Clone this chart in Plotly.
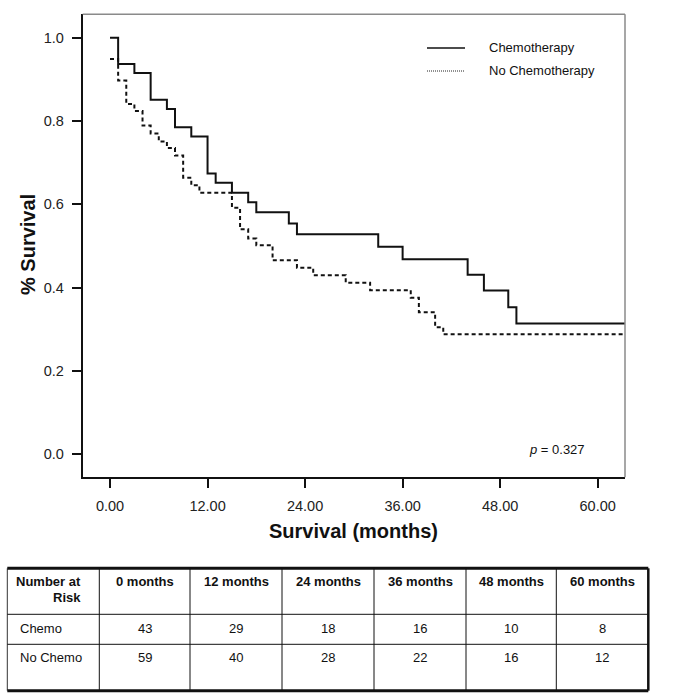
import plotly.graph_objects as go

W, H = 677, 697

# ---- data ----
chemo_months = [0, 1, 3, 5, 7, 8, 10, 12, 13, 15, 17, 18, 22, 23, 33, 36, 44, 46, 49, 50, 63.36]
chemo_surv = [1.0, 0.937, 0.915, 0.851, 0.829, 0.785, 0.763, 0.674, 0.652, 0.628, 0.605, 0.581,
              0.554, 0.528, 0.498, 0.468, 0.431, 0.393, 0.353, 0.314, 0.314]

nochemo_months = [0, 1, 2, 3, 4, 5, 6, 7, 8, 9, 10, 11, 15, 16, 17, 18, 20, 23, 25, 29, 32,
                  37, 38, 40, 41, 63.36]
nochemo_surv = [0.949, 0.897, 0.841, 0.824, 0.789, 0.770, 0.751, 0.735, 0.717, 0.664, 0.646,
                0.628, 0.592, 0.540, 0.518, 0.502, 0.466, 0.448, 0.430, 0.412, 0.394, 0.376,
                0.341, 0.305, 0.288, 0.288]

x_ticks = [0, 12, 24, 36, 48, 60]
x_tick_labels = ["0.00", "12.00", "24.00", "36.00", "48.00", "60.00"]
y_ticks = [0.0, 0.2, 0.4, 0.6, 0.8, 1.0]
y_tick_labels = ["0.0", "0.2", "0.4", "0.6", "0.8", "1.0"]

table_header = ["0 months", "12 months", "24 months", "36 months", "48 months", "60 months"]
table_rows = ["Chemo", "No Chemo"]
risk_chemo = [43, 29, 18, 16, 10, 8]
risk_nochemo = [59, 40, 28, 22, 16, 12]

series_names = ["Chemotherapy", "No Chemotherapy"]
p_text = "<i>p</i> = 0.327"


def px(x):
    return x / W


def py(y):
    return 1 - y / H


FONT = "Liberation Sans, Arial, sans-serif"
NARROW = "Liberation Sans Narrow, Liberation Sans, Arial, sans-serif"

fig = go.Figure()
fig.add_trace(go.Scatter(x=chemo_months, y=chemo_surv, mode="lines", line_shape="hv",
                         name=series_names[0], line=dict(color="#111", width=2)))
fig.add_trace(go.Scatter(x=nochemo_months, y=nochemo_surv, mode="lines", line_shape="hv",
                         name=series_names[1], line=dict(color="#111", width=2, dash="4px,3px")))

# plot area
L, R, T, B = 82.7, 625, 14.3, 477.3

shapes = []
# top and right grey frame
shapes.append(dict(type="line", xref="paper", yref="paper", x0=px(L), x1=px(R), y0=py(T), y1=py(T),
                   line=dict(color="#8a8a8a", width=1.5)))
shapes.append(dict(type="line", xref="paper", yref="paper", x0=px(R), x1=px(R), y0=py(T), y1=py(B),
                   line=dict(color="#8a8a8a", width=1.5)))

# legend
leg_y = [48, 71]
shapes.append(dict(type="line", xref="paper", yref="paper", x0=px(427), x1=px(465), y0=py(leg_y[0]),
                   y1=py(leg_y[0]), line=dict(color="#111", width=1.3)))
shapes.append(dict(type="line", xref="paper", yref="paper", x0=px(427), x1=px(465), y0=py(leg_y[1]),
                   y1=py(leg_y[1]), line=dict(color="#222", width=1, dash="1px,1px")))

annotations = []
for i, nm in enumerate(series_names):
    annotations.append(dict(text=nm, xref="paper", yref="paper", x=px(487), y=py(leg_y[i]),
                            xanchor="left", yanchor="middle", showarrow=False,
                            font=dict(family=FONT, size=13, color="#111")))

annotations.append(dict(text=p_text, xref="paper", yref="paper", x=px(557), y=py(449),
                        xanchor="center", yanchor="middle", showarrow=False,
                        font=dict(family=FONT, size=13, color="#111")))

# axis titles
annotations.append(dict(text="<b>Survival (months)</b>", xref="paper", yref="paper", x=px(353.7),
                        y=py(531), xanchor="center", yanchor="middle", showarrow=False,
                        font=dict(family=FONT, size=20, color="#111")))
annotations.append(dict(text="<b>% Survival</b>", xref="paper", yref="paper", x=px(28),
                        y=py(245), xanchor="center", yanchor="middle", showarrow=False, textangle=-90,
                        font=dict(family=FONT, size=20, color="#111")))

# ---- number at risk table ----
cols = [7.3, 99.3, 190, 282, 374, 466, 556.3, 648.3]
rows = [568.3, 614.3, 644.3, 690.7]

for x in cols[1:-1]:
    shapes.append(dict(type="line", xref="paper", yref="paper", x0=px(x), x1=px(x), y0=py(rows[0]),
                       y1=py(rows[-1]), line=dict(color="#111", width=1)))
shapes.append(dict(type="line", xref="paper", yref="paper", x0=px(cols[0]), x1=px(cols[0]),
                   y0=py(rows[0]), y1=py(rows[-1]), line=dict(color="#333", width=1)))
shapes.append(dict(type="line", xref="paper", yref="paper", x0=px(cols[-1]), x1=px(cols[-1]),
                   y0=py(rows[0]), y1=py(rows[-1]), line=dict(color="#111", width=2.5)))
for y in rows[1:-1]:
    shapes.append(dict(type="line", xref="paper", yref="paper", x0=px(cols[0]), x1=px(cols[-1]),
                       y0=py(y), y1=py(y), line=dict(color="#111", width=1)))
for y in (rows[0], rows[-1]):
    shapes.append(dict(type="line", xref="paper", yref="paper", x0=px(cols[0]), x1=px(cols[-1]),
                       y0=py(y), y1=py(y), line=dict(color="#111", width=3)))

annotations.append(dict(text="<b>Number at</b>", xref="paper", yref="paper", x=px(83), y=py(581),
                        xanchor="right", yanchor="middle", showarrow=False,
                        font=dict(family=NARROW, size=13, color="#111")))
annotations.append(dict(text="<b>Risk</b>", xref="paper", yref="paper", x=px(83), y=py(597),
                        xanchor="right", yanchor="middle", showarrow=False,
                        font=dict(family=NARROW, size=13, color="#111")))
for i, h in enumerate(table_header):
    cx = (cols[i + 1] + cols[i + 2]) / 2
    annotations.append(dict(text="<b>" + h + "</b>", xref="paper", yref="paper", x=px(cx), y=py(581),
                            xanchor="center", yanchor="middle", showarrow=False,
                            font=dict(family=NARROW, size=13, color="#111")))
row_y = [628, 657]
for r, (lab, vals) in enumerate(zip(table_rows, [risk_chemo, risk_nochemo])):
    annotations.append(dict(text=lab, xref="paper", yref="paper", x=px(18), y=py(row_y[r]),
                            xanchor="left", yanchor="middle", showarrow=False,
                            font=dict(family=NARROW, size=13, color="#111")))
    for i, v in enumerate(vals):
        cx = (cols[i + 1] + cols[i + 2]) / 2
        annotations.append(dict(text=str(v), xref="paper", yref="paper", x=px(cx), y=py(row_y[r]),
                                xanchor="center", yanchor="middle", showarrow=False,
                                font=dict(family=NARROW, size=13, color="#111")))

fig.update_layout(
    width=W, height=H,
    margin=dict(l=0, r=0, t=0, b=0),
    paper_bgcolor="white", plot_bgcolor="white",
    showlegend=False,
    shapes=shapes,
    annotations=annotations,
    xaxis=dict(domain=[px(L), px(R)], range=[-3.36, 63.36], tickmode="array", tickvals=x_ticks,
               ticktext=x_tick_labels, showgrid=False, zeroline=False, showline=True,
               linecolor="#111", linewidth=2, ticks="outside", ticklen=9, tickwidth=2,
               tickcolor="#111", ticklabelstandoff=5,
               tickfont=dict(family=FONT, size=14.5, color="#222")),
    yaxis=dict(domain=[py(B), py(T)], range=[-0.0552, 1.0562], tickmode="array", tickvals=y_ticks,
               ticktext=y_tick_labels, showgrid=False, zeroline=False, showline=True,
               linecolor="#111", linewidth=2, ticks="outside", ticklen=9, tickwidth=2,
               tickcolor="#111", ticklabelstandoff=5,
               tickfont=dict(family=FONT, size=14.5, color="#222")),
)

fig.write_html("out.html", config={"displayModeBar": False},
               post_script="document.body.style.margin='0px';document.body.style.overflow='hidden';")
